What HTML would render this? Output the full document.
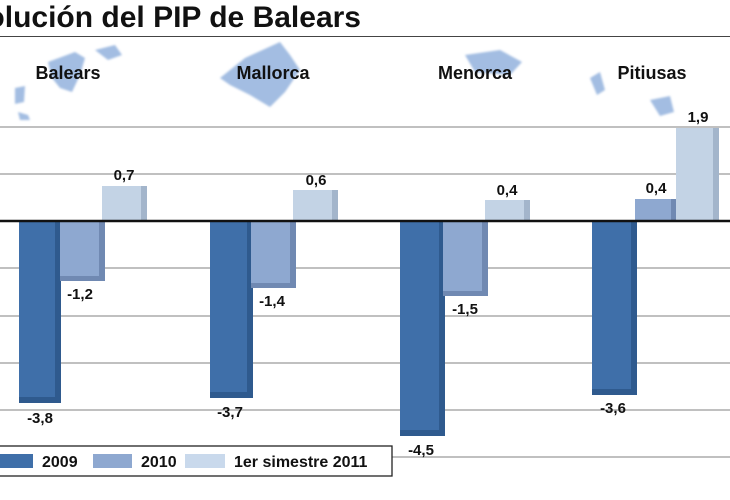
<!DOCTYPE html>
<html><head><meta charset="utf-8"><style>
html,body{margin:0;padding:0;background:#fff;width:730px;height:500px;overflow:hidden}
svg{display:block;font-family:"Liberation Sans",Arial,sans-serif}
</style></head><body>
<svg width="730" height="500" viewBox="0 0 730 500" xmlns="http://www.w3.org/2000/svg">
<defs>
<filter id="bl" x="-50%" y="-50%" width="200%" height="200%"><feGaussianBlur stdDeviation="1"/></filter>
</defs>
<text x="361" y="27" text-anchor="end" font-size="30" font-weight="bold" fill="#111">Evolución del PIP de Balears</text>
<line x1="0" y1="36.5" x2="730" y2="36.5" stroke="#444" stroke-width="1"/>
<g fill="#a3bde2" filter="url(#bl)">
<path d="M48 62 L75 52 L85 58 L80 75 L72 92 L60 88 L52 78 Z"/>
<path d="M95 50 L115 45 L122 55 L108 60 Z"/>
<path d="M15 88 L25 86 L24 102 L15 104 Z"/>
<path d="M18 112 L28 115 L30 120 L20 120 Z"/>
<path d="M220 78 L245 58 L280 42 L290 55 L300 70 L285 92 L270 107 L250 95 L230 85 Z"/>
<path d="M465 55 L500 50 L522 62 L510 75 L475 72 Z"/>
<path d="M590 78 L600 72 L605 90 L597 95 Z"/>
<path d="M650 100 L670 96 L674 112 L660 116 Z"/>
</g>
<g font-size="18" font-weight="bold" fill="#111" text-anchor="middle">
<text x="68" y="79">Balears</text>
<text x="273" y="79">Mallorca</text>
<text x="475" y="79">Menorca</text>
<text x="652" y="79">Pitiusas</text>
</g>
<g stroke="#9a9a9a" stroke-width="1.3">
<line x1="0" y1="127" x2="730" y2="127"/>
<line x1="0" y1="174" x2="730" y2="174"/>
<line x1="0" y1="268" x2="730" y2="268"/>
<line x1="0" y1="316" x2="730" y2="316"/>
<line x1="0" y1="363" x2="730" y2="363"/>
<line x1="0" y1="410" x2="730" y2="410"/>
<line x1="0" y1="457" x2="730" y2="457"/>
</g>
<g>
<rect x="19" y="221" width="42" height="182" fill="#3f6fa9"/><rect x="55" y="221" width="6" height="182" fill="#2f5a8e"/><rect x="19" y="397" width="42" height="6" fill="#2f5a8e"/>
<rect x="60" y="221" width="45" height="60" fill="#8ea8d0"/><rect x="99" y="221" width="6" height="60" fill="#7089b2"/><rect x="60" y="276" width="45" height="5" fill="#7089b2"/>
<rect x="102" y="186" width="45" height="35" fill="#c3d3e5"/><rect x="141" y="186" width="6" height="35" fill="#a3b5cb"/>
<rect x="210" y="221" width="43" height="177" fill="#3f6fa9"/><rect x="247" y="221" width="6" height="177" fill="#2f5a8e"/><rect x="210" y="392" width="43" height="6" fill="#2f5a8e"/>
<rect x="251" y="221" width="45" height="67" fill="#8ea8d0"/><rect x="290" y="221" width="6" height="67" fill="#7089b2"/><rect x="251" y="283" width="45" height="5" fill="#7089b2"/>
<rect x="293" y="190" width="45" height="31" fill="#c3d3e5"/><rect x="332" y="190" width="6" height="31" fill="#a3b5cb"/>
<rect x="400" y="221" width="45" height="215" fill="#3f6fa9"/><rect x="439" y="221" width="6" height="215" fill="#2f5a8e"/><rect x="400" y="430" width="45" height="6" fill="#2f5a8e"/>
<rect x="443" y="221" width="45" height="75" fill="#8ea8d0"/><rect x="482" y="221" width="6" height="75" fill="#7089b2"/><rect x="443" y="291" width="45" height="5" fill="#7089b2"/>
<rect x="485" y="200" width="45" height="21" fill="#c3d3e5"/><rect x="524" y="200" width="6" height="21" fill="#a3b5cb"/>
<rect x="592" y="221" width="45" height="174" fill="#3f6fa9"/><rect x="631" y="221" width="6" height="174" fill="#2f5a8e"/><rect x="592" y="389" width="45" height="6" fill="#2f5a8e"/>
<rect x="635" y="199" width="42" height="22" fill="#8ea8d0"/><rect x="671" y="199" width="6" height="22" fill="#7089b2"/>
<rect x="676" y="128" width="43" height="93" fill="#c3d3e5"/><rect x="713" y="128" width="6" height="93" fill="#a3b5cb"/>
</g>
<line x1="0" y1="221" x2="730" y2="221" stroke="#111" stroke-width="2.5"/>
<g font-size="15" font-weight="bold" fill="#111" text-anchor="middle">
<text x="124" y="180">0,7</text>
<text x="316" y="185">0,6</text>
<text x="507" y="195">0,4</text>
<text x="656" y="193">0,4</text>
<text x="698" y="122">1,9</text>
<text x="80" y="299">-1,2</text>
<text x="272" y="306">-1,4</text>
<text x="465" y="314">-1,5</text>
<text x="40" y="423">-3,8</text>
<text x="230" y="417">-3,7</text>
<text x="421" y="455">-4,5</text>
<text x="613" y="413">-3,6</text>
</g>
<rect x="-2" y="446" width="394" height="30" fill="#fff" stroke="#222" stroke-width="1.3"/>
<rect x="0" y="454" width="33" height="14" fill="#3f6fa9"/>
<rect x="93" y="454" width="39" height="14" fill="#8ea8d0"/>
<rect x="185" y="454" width="40" height="14" fill="#c9d9ec"/>
<g font-size="16" font-weight="bold" fill="#111">
<text x="42" y="467">2009</text>
<text x="141" y="467">2010</text>
<text x="234" y="467">1er simestre 2011</text>
</g>
</svg>
</body></html>
